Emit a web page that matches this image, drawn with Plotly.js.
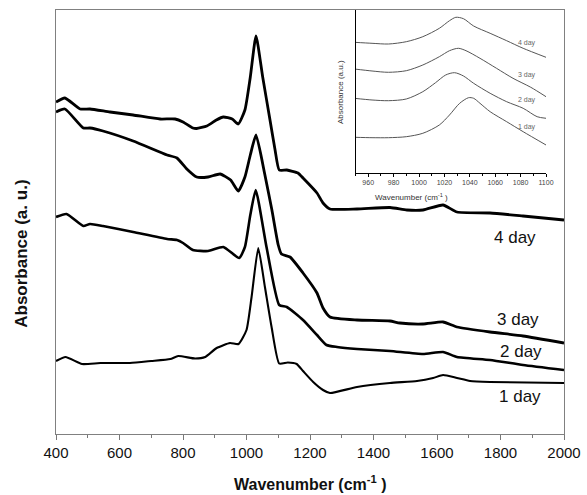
<!DOCTYPE html>
<html>
<head>
<meta charset="utf-8">
<script src="https://cdn.plot.ly/plotly-3.0.1.min.js"></script>
<style>html,body{margin:0;padding:0;background:#fff;}#chart{width:587px;height:495px;}</style>
</head>
<body>
<div id="chart"></div>
<script>
// Main spectra (wavenumber, absorbance in arbitrary offset units)
var wn4 = [400,428,476,507,570,643,728,775,800,831,843,875,905,927,955,974,995,1012,1030,1051,1074,1090,1103,1127,1162,1178,1222,1241,1263,1348,1452,1505,1556,1619,1663,1767,1871,2000];
var ab4 = [332,336,325,325,322,319,315,315,312,306,305.5,308,314,317,315,310,324,357,398,357,314,284,264,264,261,256,241,231,225,225,226.5,224,224,229,222,221,218,214];

var wn3 = [400,428,486,507,548,643,750,781,812,843,879,917,950,974,995,1012,1030,1058,1080,1100,1110,1137,1178,1222,1241,1263,1348,1452,1483,1556,1619,1663,1767,1871,2000];
var ab3 = [322,325,306,306,303,293,279,276,265,257,257,260,254,243,257,279,299,259,224,189,180,177,161,141,126,117,114,113,111,110,112,107,102,98,91];

var wn2 = [400,433,486,507,548,643,750,781,800,831,879,927,977,995,1012,1029,1063,1103,1127,1178,1222,1252,1285,1348,1452,1556,1619,1663,1767,1871,2000];
var ab2 = [217,220,208,210,208,202,195,194,191,184,183,187,176,187,219,244,187,129,127,114,99,89,87,85,83,80,82,77,74,69,64];

var wn1 = [400,430,482,540,633,700,760,785,838,870,906,948,975,1000,1016,1037,1058,1079,1103,1130,1158,1178,1210,1241,1263,1348,1452,1537,1588,1619,1663,1704,1767,2000];
var ab1 = [73,77,70,71,71,73,75,78,75.5,77,86,91,90,104,137,186,147,107,70.5,71.5,70,63,52,44,41,47,51,53,56,59,56,53,52,51];

var mainLabels = ["4 day","3 day","2 day","1 day"];
var mainLabelX = [1846,1855,1866,1861];
var mainLabelY = [197,115,83,38];

// Inset spectra (950-1100 cm-1)
var iwn4 = [949,963,976,990,1003,1016,1024,1029,1035,1043,1056,1069,1082,1100];
var iab4 = [130.7,129.7,129,131.3,136.3,144.7,152.3,155.7,154.3,147,139.7,132.3,124.7,115.7];
var iwn3 = [949,963,976,990,1003,1016,1024,1031,1037,1048,1061,1074,1088,1100];
var iab3 = [104,102,100.7,102.3,108,116.3,122.3,124.7,122.3,114.7,104.7,94.7,85.7,76.3];
var iwn2 = [949,963,976,990,1003,1013,1021,1028,1035,1043,1056,1069,1082,1093,1100];
var iab2 = [74.7,73,72.3,74,81.3,90.3,98,100.3,97,89.7,79.7,71.3,64.7,56.3,54.7];
var iwn1 = [949,963,976,990,1003,1016,1024,1032,1039,1043,1048,1056,1069,1082,1100];
var iab1 = [35.7,35.3,35.3,36.3,39.7,48,58,69.7,75.3,74.7,69.7,61.3,51.3,41.3,28];
var insetLabels = ["4 day","3 day","2 day","1 day"];
var insetLabelX = [1085,1085,1085,1085];
var insetLabelY = [130,98,73,46];

function mainLine(w){ return {color:'#000', width:w, shape:'spline', smoothing:0.5}; }
function insetLine(){ return {color:'#555', width:1, shape:'spline', smoothing:0.8}; }

var traces = [
  {x: wn4, y: ab4, mode:'lines', line:mainLine(2.8), xaxis:'x', yaxis:'y'},
  {x: wn3, y: ab3, mode:'lines', line:mainLine(2.8), xaxis:'x', yaxis:'y'},
  {x: wn2, y: ab2, mode:'lines', line:mainLine(2.6), xaxis:'x', yaxis:'y'},
  {x: wn1, y: ab1, mode:'lines', line:mainLine(2.1), xaxis:'x', yaxis:'y'},
  {x: iwn4, y: iab4, mode:'lines', line:insetLine(), xaxis:'x2', yaxis:'y2'},
  {x: iwn3, y: iab3, mode:'lines', line:insetLine(), xaxis:'x2', yaxis:'y2'},
  {x: iwn2, y: iab2, mode:'lines', line:insetLine(), xaxis:'x2', yaxis:'y2'},
  {x: iwn1, y: iab1, mode:'lines', line:insetLine(), xaxis:'x2', yaxis:'y2'}
];

var ann = [];
for (var i=0;i<mainLabels.length;i++){
  ann.push({x: mainLabelX[i], y: mainLabelY[i], xref:'x', yref:'y', text: mainLabels[i], showarrow:false,
    font:{size:17, color:'#111', family:'Liberation Sans, Arial, sans-serif'}});
}
for (var j=0;j<insetLabels.length;j++){
  ann.push({x: insetLabelX[j], y: insetLabelY[j], xref:'x2', yref:'y2', text: insetLabels[j], showarrow:false,
    font:{size:7, color:'#666', family:'Liberation Sans, Arial, sans-serif'}});
}
ann.push({x:0.5, y:-0.1156, xref:'paper', yref:'paper', text:'<b>Wavenumber (cm<sup>-1</sup> )</b>', showarrow:false,
  yanchor:'middle', font:{size:16, color:'#111'}});
ann.push({x:-0.067, y:0.425, xref:'paper', yref:'paper', text:'<b>Absorbance (a. u.)</b>', showarrow:false,
  textangle:-90, xanchor:'center', yanchor:'middle', font:{size:17, color:'#111'}});
ann.push({x:0.7756, y:0.559, xref:'paper', yref:'paper', text:'Wavenumber (cm<sup>-1</sup> )', showarrow:false,
  yanchor:'middle', font:{size:8, color:'#333'}});
ann.push({x:0.559, y:0.8066, xref:'paper', yref:'paper', text:'Absorbance (a.u.)', showarrow:false,
  textangle:-90, xanchor:'center', yanchor:'middle', font:{size:8, color:'#333'}});

var layout = {
  width:587, height:495,
  margin:{l:56, r:23, t:10, b:61},
  paper_bgcolor:'#fff', plot_bgcolor:'rgba(0,0,0,0)',
  showlegend:false, hovermode:false,
  font:{family:'Liberation Sans, Arial, sans-serif', color:'#111'},
  xaxis:{domain:[0,1], range:[400,2000], dtick:200, tick0:400, ticks:'outside', ticklen:5, tickcolor:'#777',
    showline:true, linecolor:'#808080', linewidth:1, mirror:true, showgrid:false, zeroline:false,
    tickfont:{size:15, color:'#111'}, minor:{dtick:100, ticks:'outside', ticklen:3, tickcolor:'#777', showgrid:false}},
  yaxis:{domain:[0,1], range:[0,424], showticklabels:false, ticks:'', showline:true, linecolor:'#808080', linewidth:1,
    mirror:true, showgrid:false, zeroline:false},
  xaxis2:{domain:[0.5896,0.9646], anchor:'y2', range:[950,1100], dtick:20, tick0:960, ticks:'outside', ticklen:3,
    tickcolor:'#000', showline:true, linecolor:'#000', linewidth:1, showgrid:false, zeroline:false,
    tickfont:{size:7, color:'#444'}, minor:{dtick:10, ticks:'outside', ticklen:2, tickcolor:'#000', showgrid:false}},
  yaxis2:{domain:[0.6156,1], anchor:'x2', range:[0,163], showticklabels:false, ticks:'', showline:true,
    linecolor:'#000', linewidth:1, showgrid:false, zeroline:false},
  annotations: ann
};

Plotly.newPlot('chart', traces, layout, {displayModeBar:false, staticPlot:true});
</script>
</body>
</html>
